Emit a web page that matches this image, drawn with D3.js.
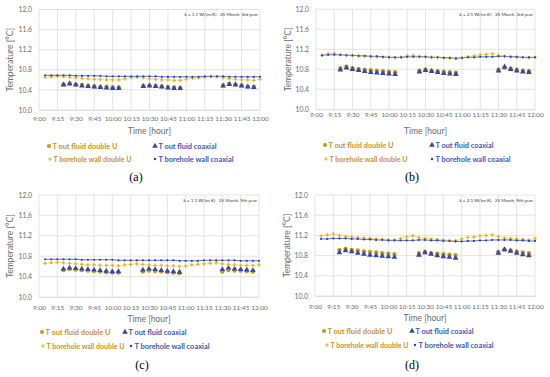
<!DOCTYPE html>
<html><head><meta charset="utf-8">
<script src="https://cdn.jsdelivr.net/npm/d3@7"></script>
<style>
html,body{margin:0;padding:0;background:#fff;}
svg{display:block;}
</style></head>
<body>
<svg id="chart" width="550" height="377"></svg>
<script>
// ---------- data ----------
const xTickLabels = ["9:00","9:15","9:30","9:45","10:00","10:15","10:30","10:45","11:00","11:15","11:30","11:45","12:00"];
const yTicks = [10.0, 10.4, 10.8, 11.2, 11.6, 12.0];
const wallTimes = ["9:05","9:10","9:15","9:20","9:25","9:30","9:35","9:40","9:45","9:50","9:55","10:00","10:05","10:10","10:15","10:20","10:25","10:30","10:35","10:40","10:45","10:50","10:55","11:00","11:05","11:10","11:15","11:20","11:25","11:30","11:35","11:40","11:45","11:50","11:55","12:00"];
const pumpTimes = ["9:20","9:25","9:30","9:35","9:40","9:45","9:50","9:55","10:00","10:05","10:25","10:30","10:35","10:40","10:45","10:50","10:55","11:30","11:35","11:40","11:45","11:50","11:55"];
const seriesNames = ["T out fluid double U","T out fluid coaxial","T borehole wall double U","T borehole wall coaxial"];
const panelCaptions = ["(a)","(b)","(c)","(d)"];
const panelNotes = ["λ = 1.1 W/(m K)   25 March, 3rd year","λ = 2.1 W/(m K)   25 March, 3rd year","λ = 1.1 W/(m K)   25 March, 9th year","λ = 2.1 W/(m K)   25 March, 9th year"];

// panel (a)
const aOutDU   = [10.51,10.53,10.51,10.50,10.48,10.47,10.46,10.46,10.45,10.45, 10.48,10.49,10.48,10.47,10.46,10.45,10.44, 10.49,10.52,10.51,10.49,10.47,10.46];
const aOutCoax = [10.50,10.52,10.50,10.48,10.47,10.46,10.45,10.44,10.43,10.43, 10.47,10.48,10.47,10.46,10.44,10.43,10.43, 10.48,10.51,10.50,10.48,10.46,10.45];
const aWallDU  = [10.65,10.66,10.67,10.66,10.65,10.64,10.63,10.62,10.61,10.61,10.60,10.60,10.60,10.62,10.64,10.65,10.64,10.62,10.61,10.60,10.60,10.59,10.59,10.61,10.63,10.64,10.65,10.66,10.66,10.64,10.62,10.61,10.60,10.60,10.59,10.61];
const aWallCoax= [10.69,10.69,10.69,10.69,10.69,10.68,10.68,10.68,10.68,10.68,10.67,10.67,10.67,10.67,10.67,10.67,10.67,10.67,10.67,10.66,10.66,10.66,10.66,10.66,10.66,10.66,10.67,10.67,10.67,10.67,10.66,10.66,10.66,10.66,10.66,10.66];
// panel (b)
const bOutDU   = [10.82,10.85,10.82,10.80,10.79,10.78,10.77,10.76,10.75,10.74, 10.77,10.79,10.77,10.76,10.75,10.74,10.73, 10.79,10.83,10.81,10.79,10.77,10.76];
const bOutCoax = [10.79,10.83,10.80,10.78,10.76,10.74,10.73,10.72,10.71,10.70, 10.75,10.78,10.76,10.74,10.72,10.71,10.70, 10.77,10.85,10.80,10.77,10.75,10.74];
const bWallDU  = [11.08,11.11,11.12,11.09,11.08,11.07,11.07,11.06,11.05,11.05,11.04,11.04,11.03,11.04,11.07,11.08,11.06,11.05,11.04,11.04,11.03,11.02,11.01,11.03,11.05,11.07,11.09,11.10,11.11,11.08,11.06,11.05,11.04,11.04,11.03,11.04];
const bWallCoax= [11.08,11.09,11.09,11.09,11.08,11.08,11.07,11.07,11.06,11.06,11.05,11.04,11.04,11.04,11.05,11.05,11.05,11.05,11.04,11.04,11.03,11.03,11.02,11.03,11.04,11.04,11.05,11.05,11.05,11.06,11.06,11.05,11.05,11.04,11.04,11.04];
// panel (c)
const cOutDU   = [10.53,10.55,10.54,10.53,10.52,10.51,10.50,10.49,10.48,10.48, 10.50,10.52,10.51,10.50,10.49,10.48,10.47, 10.50,10.53,10.52,10.52,10.51,10.50];
const cOutCoax = [10.55,10.57,10.56,10.55,10.54,10.53,10.52,10.51,10.50,10.50, 10.53,10.55,10.54,10.52,10.51,10.50,10.49, 10.54,10.57,10.55,10.54,10.53,10.52];
const cWallDU  = [10.66,10.67,10.68,10.67,10.66,10.65,10.64,10.63,10.63,10.62,10.62,10.62,10.61,10.63,10.64,10.65,10.64,10.63,10.62,10.62,10.61,10.61,10.60,10.61,10.63,10.64,10.65,10.66,10.67,10.65,10.64,10.63,10.62,10.62,10.62,10.63];
const cWallCoax= [10.74,10.74,10.74,10.74,10.74,10.74,10.73,10.73,10.73,10.73,10.73,10.73,10.72,10.72,10.72,10.72,10.72,10.72,10.72,10.72,10.72,10.72,10.71,10.71,10.71,10.71,10.72,10.72,10.72,10.72,10.72,10.72,10.71,10.71,10.71,10.71];
// panel (d)
const dOutDU   = [10.91,10.93,10.91,10.90,10.88,10.87,10.86,10.85,10.84,10.83, 10.85,10.87,10.85,10.84,10.83,10.82,10.81, 10.87,10.92,10.90,10.88,10.86,10.85];
const dOutCoax = [10.86,10.90,10.88,10.85,10.83,10.81,10.80,10.79,10.78,10.77, 10.81,10.86,10.83,10.80,10.78,10.77,10.75, 10.85,10.92,10.89,10.85,10.82,10.80];
const dWallDU  = [11.19,11.21,11.23,11.20,11.18,11.17,11.16,11.15,11.14,11.13,11.12,11.11,11.11,11.14,11.17,11.19,11.16,11.14,11.13,11.12,11.11,11.10,11.10,11.13,11.16,11.17,11.19,11.20,11.21,11.18,11.15,11.14,11.13,11.12,11.11,11.14];
const dWallCoax= [11.13,11.13,11.14,11.14,11.14,11.13,11.13,11.12,11.12,11.11,11.11,11.10,11.10,11.10,11.10,11.10,11.11,11.11,11.10,11.10,11.09,11.09,11.08,11.08,11.09,11.09,11.10,11.10,11.11,11.11,11.11,11.11,11.10,11.10,11.09,11.09];

// ---------- layout / style ----------
const C = {
  duOut: "#C39A1E", duWall: "#E6B422", duLine: "#EDC860",
  coOut: "#3A45A8", coWall: "#2F3F9E", coLine: "#4A68CC",
  duText: "#C8922A", coText: "#3D55B4",
  grid: "#D9D9D9", axisText: "#6B6B6B"
};
const toMin = s => { const [h,m] = s.split(":").map(Number); return h*60+m; };
const legendWidths = [65, 58, 78, 75];

const panels = [
  {x0:39, x1:260, y0:9.5, y1:110, tickY:118.5, titleY:131, ytX:10,  legY:[146,159], legX:[49,155], legX2:[50,155], capX:136, capY:181,
   outDU:aOutDU, outCo:aOutCoax, wallDU:aWallDU, wallCo:aWallCoax},
  {x0:316, x1:535, y0:9.3, y1:109.3, tickY:115, titleY:131, ytX:288, legY:[145,159], legX:[325,432], legX2:[326,432], capX:412, capY:181,
   outDU:bOutDU, outCo:bOutCoax, wallDU:bWallDU, wallCo:bWallCoax},
  {x0:39, x1:259, y0:195, y1:297, tickY:307.5, titleY:319, ytX:10,  legY:[332,346], legX:[42,125], legX2:[43,131], capX:142, capY:369,
   outDU:cOutDU, outCo:cOutCoax, wallDU:cWallDU, wallCo:cWallCoax},
  {x0:315, x1:535, y0:195, y1:296, tickY:306.5, titleY:318, ytX:287, legY:[331,345], legX:[324,412], legX2:[327,415], capX:412, capY:369,
   outDU:dOutDU, outCo:dOutCoax, wallDU:dWallDU, wallCo:dWallCoax}
];

const svg = d3.select("#chart");
const FONT = "Lato, 'Open Sans', 'Liberation Sans', sans-serif";

panels.forEach((p, i) => {
  const g = svg.append("g");
  const x = d3.scaleLinear().domain([toMin(xTickLabels[0]), toMin(xTickLabels[xTickLabels.length-1])]).range([p.x0, p.x1]);
  const y = d3.scaleLinear().domain([yTicks[0], yTicks[yTicks.length-1]]).range([p.y1, p.y0]);

  // gridlines
  g.append("g").selectAll("line.h").data(yTicks).join("line")
    .attr("x1", p.x0).attr("x2", p.x1).attr("y1", d => y(d)).attr("y2", d => y(d))
    .attr("stroke", C.grid).attr("stroke-width", 0.7);
  g.append("g").selectAll("line.v").data(xTickLabels).join("line")
    .attr("x1", d => x(toMin(d))).attr("x2", d => x(toMin(d))).attr("y1", p.y0).attr("y2", p.y1)
    .attr("stroke", C.grid).attr("stroke-width", 0.7);

  // axes (labels only, Excel style)
  const xa = g.append("g").attr("transform", `translate(0,${p.y1})`)
    .call(d3.axisBottom(x).tickValues(xTickLabels.map(toMin)).tickFormat((d,j) => xTickLabels[j]).tickSize(0).tickPadding(0));
  xa.select(".domain").attr("stroke", C.grid).attr("stroke-width", 0.7);
  xa.selectAll("text").attr("y", p.tickY - p.y1).attr("dy", "0.35em")
    .attr("font-family", FONT).attr("font-size", 6.5).attr("fill", C.axisText);

  const ya = g.append("g").attr("transform", `translate(${p.x0},0)`)
    .call(d3.axisLeft(y).tickValues(yTicks).tickFormat(d3.format(".1f")).tickSize(0).tickPadding(7));
  ya.select(".domain").remove();
  ya.selectAll("text").attr("font-family", FONT).attr("font-size", 6.8).attr("fill", C.axisText);

  // axis titles
  g.append("text").attr("x", (p.x0+p.x1)/2).attr("y", p.titleY).attr("dy","0.35em")
    .attr("text-anchor","middle").attr("font-family", FONT).attr("font-size", 8.5).attr("fill", C.axisText)
    .text("Time [hour]");
  g.append("text").attr("transform", `translate(${p.ytX},${(p.y0+p.y1)/2}) rotate(-90)`).attr("dy","0.35em")
    .attr("text-anchor","middle").attr("font-family", FONT).attr("font-size", 8.5).attr("fill", C.axisText)
    .text("Temperature [°C]");

  // note
  g.append("text").attr("x", p.x1 - 2).attr("y", p.y0 + 5).attr("dy","0.35em")
    .attr("text-anchor","end").attr("font-family", FONT).attr("font-size", 4.6).attr("fill", "#333")
    .attr("xml:space","preserve").style("white-space","pre")
    .text(panelNotes[i]);

  const wallDU = wallTimes.map((t,j) => ({t:toMin(t), v:p.wallDU[j]}));
  const wallCo = wallTimes.map((t,j) => ({t:toMin(t), v:p.wallCo[j]}));
  const outDU = pumpTimes.map((t,j) => ({t:toMin(t), v:p.outDU[j]}));
  const outCo = pumpTimes.map((t,j) => ({t:toMin(t), v:p.outCo[j]}));
  const line = d3.line().x(d => x(d.t)).y(d => y(d.v));

  g.append("path").datum(wallDU).attr("d", line).attr("fill","none")
    .attr("stroke", C.duLine).attr("stroke-width", 0.7).attr("stroke-dasharray","1.5,1");
  g.append("path").datum(wallCo).attr("d", line).attr("fill","none")
    .attr("stroke", C.coLine).attr("stroke-width", 0.9);

  // out fluid markers
  g.append("g").selectAll("circle").data(outDU).join("circle")
    .attr("cx", d => x(d.t)).attr("cy", d => y(d.v)).attr("r", 2.2).attr("fill", C.duOut);
  const tri = d3.symbol().type(d3.symbolTriangle).size(14);
  g.append("g").selectAll("path").data(outCo).join("path")
    .attr("transform", d => `translate(${x(d.t)},${y(d.v)})`).attr("d", tri).attr("fill", C.coOut);

  // wall markers
  const cross = d3.symbol().type(d3.symbolCross).size(7);
  g.append("g").selectAll("path").data(wallDU).join("path")
    .attr("transform", d => `translate(${x(d.t)},${y(d.v)})`).attr("d", cross).attr("fill", C.duWall);
  g.append("g").selectAll("circle").data(wallCo).join("circle")
    .attr("cx", d => x(d.t)).attr("cy", d => y(d.v)).attr("r", 1.1).attr("fill", C.coWall);

  // legend
  const leg = [
    {k:0, x: p.legX[0], y: p.legY[0], col: C.duText, mk: "circle", mc: C.duOut},
    {k:1, x: p.legX[1], y: p.legY[0], col: C.coText, mk: "tri", mc: C.coOut},
    {k:2, x: p.legX2[0], y: p.legY[1], col: C.duText, mk: "cross", mc: C.duWall},
    {k:3, x: p.legX2[1], y: p.legY[1], col: C.coText, mk: "dot", mc: C.coWall}
  ];
  leg.forEach(e => {
    const lg = g.append("g").attr("transform", `translate(${e.x},${e.y})`);
    if (e.mk === "circle") lg.append("circle").attr("r", 2.1).attr("fill", e.mc);
    else if (e.mk === "tri") lg.append("path").attr("d", tri).attr("fill", e.mc);
    else if (e.mk === "cross") lg.append("path").attr("d", cross).attr("fill", e.mc);
    else lg.append("circle").attr("r", 1.2).attr("fill", e.mc);
    lg.append("text").attr("x", 3.5).attr("dy","0.35em").attr("font-family", FONT)
      .attr("font-size", 7.4).attr("font-weight", "bold").attr("fill", e.col)
      .attr("textLength", legendWidths[e.k]).attr("lengthAdjust", "spacingAndGlyphs")
      .text(seriesNames[e.k]);
  });

  // caption
  g.append("text").attr("x", p.capX).attr("y", p.capY).attr("text-anchor","middle")
    .attr("font-family", "'Liberation Serif', 'DejaVu Serif', serif").attr("font-size", 12).attr("fill", "#000")
    .text(panelCaptions[i]);
});
</script>
</body></html>
